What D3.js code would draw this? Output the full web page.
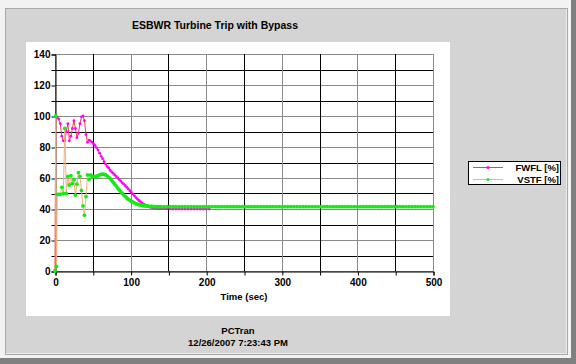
<!DOCTYPE html>
<html><head><meta charset="utf-8">
<script src="https://cdn.jsdelivr.net/npm/d3@7"></script>
<style>
html,body{margin:0;padding:0;background:#d4d4d4;}
svg{display:block;}
text{font-family:"Liberation Sans",Arial,sans-serif;font-weight:bold;fill:#000;}
</style></head>
<body>
<svg id="c" width="576" height="364"></svg>
<script>
const title = "ESBWR Turbine Trip with Bypass";
const xLabel = "Time (sec)";
const footer = ["PCTran", "12/26/2007 7:23:43 PM"];
const seriesNames = ["FWFL [%]", "VSTF [%]"];
const xTicks = [0, 100, 200, 300, 400, 500];
const yTicks = [0, 20, 40, 60, 80, 100, 120, 140];

const time = [0,1,2,3,5,7,9,11,13,15,17,19,21,23,25,27,29,31,33,35,37,39,41,43,45,47,49,51,53,55,57,59,61,63,65,67,69,71,73,75,77,79,81,83,85,87,89,91,93,95,97,99,101,103,105,107,109,111,113,115,117,119,121,123,125,127,129,131,133,135,137,139,
140,144,148,152,156,160,164,168,172,176,180,184,188,192,196,200,204,208,212,216,220,224,228,232,236,240,244,248,252,256,260,264,268,272,276,280,284,288,292,296,300,304,308,312,316,320,324,328,332,336,340,344,348,352,356,360,364,368,372,376,380,384,388,392,396,400,404,408,412,416,420,424,428,432,436,440,444,448,452,456,460,464,468,472,476,480,484,488,492,496,500];

const fwfl = [0,100,99.5,99,98,95,87,84,84,90,95,84,87,92,97,92,86,89,95,99.5,100,97,88,83,84.5,84,83,82,81,79.5,78,76,74,72.5,70.5,69,67.5,66.5,65,64,63,62,61,60,59,58,57,56,55,54,53,51.8,50.7,49.6,48.5,47.4,46.4,45.5,44.7,43.9,43.2,42.6,42.1,41.7,41.3,41,40.8,40.6,40.5,40.4,40.3,40.3,
40.2,40.2,40.1,40.1,40.0,40.0,40.0,40.0,40.0,40.0,40.0,40.0,40.0,40.0,40.0,40.0,40.0];

const vstf = [0,100,3,49.5,49.5,49.5,54,50,92,50,61,55.5,61.5,56.5,59,49,56,63.5,61,52,42,36,48,62,59,62,61,60.8,61,61,61.5,62,62.3,62.5,62.3,62,61.4,60.6,59.6,58.5,57.2,56,54.8,53.5,52.3,51.1,50,49,48,47.1,46.3,45.6,45,44.4,43.9,43.5,43.1,42.8,42.5,42.3,42.1,42,41.9,41.8,41.7,41.6,41.6,41.5,41.5,41.5,41.5,41.5,
41.5,41.5,41.5,41.5,41.5,41.5,41.5,41.5,41.5,41.5,41.5,41.5,41.5,41.5,41.5,41.5,41.5,41.5,41.5,41.5,41.5,41.5,41.5,41.5,41.5,41.5,41.5,41.5,41.5,41.5,41.5,41.5,41.5,41.5,41.5,41.5,41.5,41.5,41.5,41.5,41.5,41.5,41.5,41.5,41.5,41.5,41.5,41.5,41.5,41.5,41.5,41.5,41.5,41.5,41.5,41.5,41.5,41.5,41.5,41.5,41.5,41.5,41.5,41.5,41.5,41.5,41.5,41.5,41.5,41.5,41.5,41.5,41.5,41.5,41.5,41.5,41.5,41.5,41.5,41.5,41.5,41.5,41.5,41.5,41.5,41.5,41.5,41.5,41.5,41.5,41.5];

const svg = d3.select("#c");

// window frame
svg.append("rect").attr("x",0).attr("y",0).attr("width",576).attr("height",364).attr("fill","#808080");
svg.append("rect").attr("x",0).attr("y",0).attr("width",571).attr("height",358).attr("fill","#f2f2f2");
svg.append("rect").attr("x",5.5).attr("y",8.5).attr("width",562).attr("height",346).attr("fill","#d4d4d4").attr("stroke","#a8a8a8");
svg.append("line").attr("x1",6).attr("x2",567).attr("y1",353.5).attr("y2",353.5).attr("stroke","#ececec");
svg.append("line").attr("x1",566.5).attr("x2",566.5).attr("y1",9).attr("y2",354).attr("stroke","#ececec");

// plot background
svg.append("rect").attr("x",26).attr("y",42).attr("width",424).attr("height",274).attr("fill","#ffffff");

const x = d3.scaleLinear().domain([0,500]).range([55,433]);
const y = d3.scaleLinear().domain([0,140]).range([271,54]);

// gridlines
const g = svg.append("g");
d3.range(0, 141, 10).forEach(v => {
  const major = v % 20 === 0;
  g.append("line").attr("x1",x(0)).attr("x2",x(500))
   .attr("y1",Math.round(y(v))+0.5).attr("y2",Math.round(y(v))+0.5)
   .attr("stroke", major ? "#8a8a8a" : "#000").attr("stroke-width", 1);
});
d3.range(0, 501, 50).forEach(v => {
  const major = v % 100 === 0;
  g.append("line").attr("y1",y(0)).attr("y2",y(140))
   .attr("x1",Math.round(x(v))+0.5).attr("x2",Math.round(x(v))+0.5)
   .attr("stroke", major ? "#8a8a8a" : "#000").attr("stroke-width", 1);
});

// axes
const yAxis = d3.axisLeft(y).tickValues(d3.range(0,141,10)).tickSize(4)
  .tickFormat(d => yTicks.includes(d) ? d : "");
const yg = svg.append("g").attr("transform",`translate(${Math.round(x(0))+0.5},0.5)`).call(yAxis);
const xAxis = d3.axisBottom(x).tickValues(d3.range(0,501,50)).tickSize(4)
  .tickFormat(d => xTicks.includes(d) ? d : "");
const xg = svg.append("g").attr("transform",`translate(0.5,${Math.round(y(0))+0.5})`).call(xAxis);
[yg, xg].forEach(a => {
  a.select(".domain").attr("stroke","#000");
  a.selectAll(".tick line").attr("stroke","#000");
  a.selectAll("text").attr("font-size",10).attr("font-family","Liberation Sans, Arial, sans-serif").attr("font-weight","bold").attr("fill","#000");
});
yg.selectAll("text").attr("x",-5);
xg.selectAll("text").attr("y",7);

// series
const dataF = fwfl.map((v,i) => [time[i], v]);
const dataV = vstf.map((v,i) => [time[i], v]);
const line = d3.line().x(d => x(d[0])).y(d => y(d[1]));

svg.append("path").datum(dataF).attr("d",line).attr("fill","none").attr("stroke","#f03c5a").attr("stroke-width",1);
svg.append("g").selectAll("circle").data(dataF).join("circle")
  .attr("cx",d=>x(d[0])).attr("cy",d=>y(d[1])).attr("r",1.4).attr("fill","#ff00ff");

svg.append("path").datum(dataV).attr("d",line).attr("fill","none").attr("stroke","#f4b080").attr("stroke-width",1);
svg.append("g").selectAll("circle").data(dataV).join("circle")
  .attr("cx",d=>x(d[0])).attr("cy",d=>y(d[1])).attr("r",1.9).attr("fill","#11ee11");

// title and labels
svg.append("text").attr("x",215).attr("y",29).attr("text-anchor","middle").attr("font-size",10.5).text(title);
svg.append("text").attr("x",244).attr("y",300).attr("text-anchor","middle").attr("font-size",9.5).text(xLabel);
svg.append("text").attr("x",238).attr("y",334).attr("text-anchor","middle").attr("font-size",9.5).text(footer[0]);
svg.append("text").attr("x",238).attr("y",346).attr("text-anchor","middle").attr("font-size",9.5).text(footer[1]);

// legend
const lg = svg.append("g");
lg.append("rect").attr("x",468.5).attr("y",161.5).attr("width",92).attr("height",23).attr("fill","#fff").attr("stroke","#000");
const lcols = [["#f03c5a","#ff00ff"],["#f4b080","#11ee11"]];
seriesNames.forEach((n,i) => {
  const yy = 167.5 + i*12;
  lg.append("line").attr("x1",473).attr("x2",503).attr("y1",yy).attr("y2",yy).attr("stroke",lcols[i][0]);
  lg.append("circle").attr("cx",488).attr("cy",yy).attr("r",1.5).attr("fill",lcols[i][1]);
  lg.append("text").attr("x",559).attr("y",yy+3.5).attr("text-anchor","end").attr("font-size",9.5).text(n);
});
</script>
</body></html>
